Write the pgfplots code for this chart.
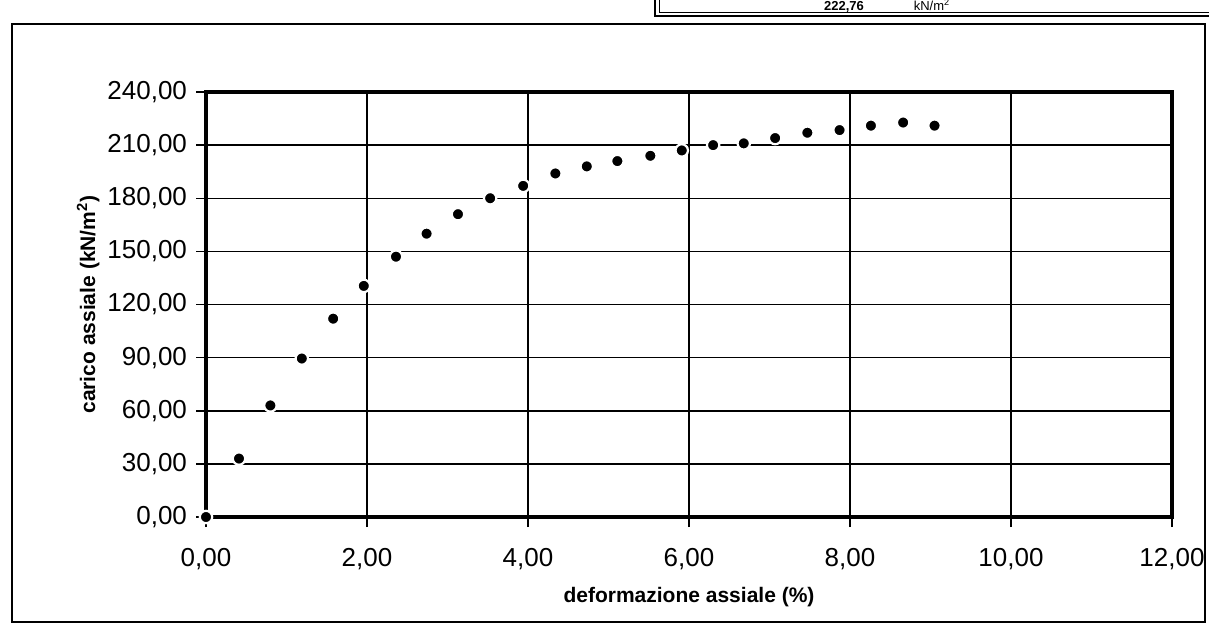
\documentclass[border=0pt]{standalone}
\usepackage{fontspec}
\setmainfont{Liberation Sans}
\usepackage{pgfplots}
\pgfplotsset{compat=1.18}
\begin{document}
\begin{tikzpicture}
\path[use as bounding box] (0pt,0pt) rectangle (604.5pt,319.5pt);
% chart area frame
\draw[line width=0.6pt] (6pt,8.5pt) rectangle (602.5pt,307.5pt);
% header box (partly outside the page at the top)
\draw[line width=0.9pt] (327.5pt,325pt) -- (327.5pt,311.5pt) -- (610pt,311.5pt);
\draw[line width=0.5pt] (329.5pt,325pt) -- (329.5pt,313.3pt) -- (610pt,313.3pt);
\node[anchor=base, font=\bfseries\fontsize{6.5}{8}\selectfont, inner sep=0pt] at (422pt,314.2pt) {222,76};
\node[anchor=base, font=\fontsize{6.5}{8}\selectfont, inner sep=0pt] at (466pt,314.2pt) {kN/m\textsuperscript{2}};
\begin{axis}[
  at={(103pt,61pt)}, anchor=south west,
  scale only axis, width=483pt, height=212.5pt,
  xmin=0, xmax=12, ymin=0, ymax=240,
  xtick={0,2,...,12}, ytick={0,30,...,240},
  grid=major, major grid style={black, line width=0.75pt},
  axis line style={line width=1.8pt},
  tick pos=left, tick align=outside, major tick length=5pt,
  tick style={black, line width=0.75pt},
  /pgf/number format/assume math mode=true,
  /pgf/number format/.cd, fixed, fixed zerofill, precision=2, use comma, 1000 sep={},
  /pgfplots/.cd,
  tick label style={font=\fontsize{13}{15}\selectfont},
  xticklabel shift=7pt,
  yticklabel shift=1pt,
  xlabel={deformazione assiale (\%)},
  ylabel={carico assiale (kN/m\textsuperscript{2})},
  label style={font=\bfseries\fontsize{10.5}{12}\selectfont},
  x label style={at={(axis description cs:0.5,0)}, anchor=center, yshift=-40pt},
  y label style={at={(axis description cs:-0.122,0.5)}, anchor=center},
]
\addplot[only marks, mark=*, mark size=3.1pt,
  mark options={fill=black, draw=white, line width=1.1pt}] coordinates {
(0,0) (0.41,33) (0.80,63) (1.19,89.5) (1.58,112) (1.96,130.5)
(2.36,147) (2.74,160) (3.13,171) (3.53,180) (3.94,187) (4.34,194)
(4.73,198) (5.11,201) (5.52,204) (5.91,207) (6.30,210) (6.68,211)
(7.07,214) (7.47,217) (7.87,218.5) (8.26,221) (8.66,222.76) (9.05,221)
};
\end{axis}
\end{tikzpicture}
\end{document}
